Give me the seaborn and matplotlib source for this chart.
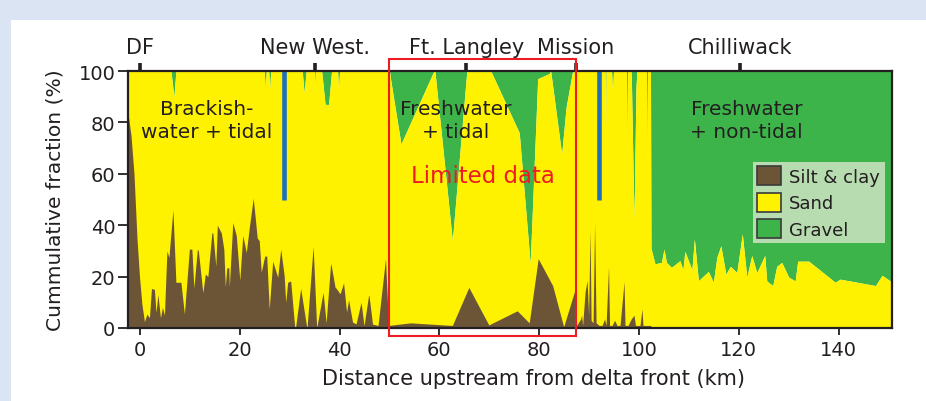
import numpy as np
import matplotlib
matplotlib.use("Agg")
import matplotlib.pyplot as plt
from matplotlib.patches import Rectangle, Patch
import seaborn as sns

# Silt & clay fraction (upper boundary of the brown layer)
silt_km = [-2.5, -1.8, -1.2, -0.6, -0.1, 0.4, 0.9, 1.4, 1.9, 2.3, 2.9, 3.2, 3.6, 4.1, 4.5, 4.9,
           5.4, 5.8, 6.6, 7.2, 8.2, 8.9, 9.9, 10.4, 10.8, 11.5, 11.7, 12.6, 13.1, 13.6, 14.4, 14.6,
           15.2, 15.5, 16.3, 16.8, 17.1, 17.4, 17.8, 17.9, 18.6, 19.3, 20.0, 20.6, 21.3, 21.9, 22.7,
           23.5, 23.9, 24.3, 25.0, 25.4, 25.9, 26.6, 27.0, 27.6, 28.2, 28.9, 29.2, 29.6, 30.2, 31.0,
           31.2, 32.2, 33.4, 33.5, 34.7, 35.4, 35.5, 36.7, 37.3, 38.2, 38.3, 39.1, 39.3, 40.1, 40.8,
           41.4, 41.8, 42.6, 43.3, 44.3, 44.9, 45.8, 45.9, 46.6, 47.7, 49.2, 49.8, 54.2, 62.6, 65.9,
           69.9, 75.6, 78.0, 79.8, 82.7, 84.9, 87.2, 87.5, 88.3, 88.5, 88.7, 89.2, 89.6, 89.9, 90.2,
           90.4, 90.8, 91.1, 91.4, 92.0, 92.6, 93.1, 93.4, 93.9, 94.1, 94.6, 95.1, 95.6, 96.2, 97.0,
           97.2, 97.8, 98.4, 99.0, 99.3, 100.2, 100.6, 100.8, 102.3, 102.7, 150.6]
silt_pct = [85, 75, 60, 35, 20, 9, 2.5, 5.4, 4, 15.4, 15, 6, 13, 4, 8, 5,
            30, 27.5, 46, 17.8, 17.8, 5.5, 30.7, 30.7, 15.6, 30.7, 30, 13.8, 21, 20, 37, 37,
            24, 40, 37, 30.7, 16, 23.4, 23.4, 16, 41, 36, 18.6, 36, 29.4, 39, 50.5,
            35, 34, 21.7, 28, 28, 7.4, 26, 23.5, 19.7, 30.7, 20.3, 10, 17.8, 18.3, 0.5,
            0.5, 15.4, 0.5, 0.5, 31.8, 0.5, 1, 13.9, 2, 25, 24.6, 15.8, 15.5, 13.3, 17.6,
            6.2, 11, 2.3, 1.6, 10, 0.9, 12.6, 12.6, 1.5, 1, 27, 1, 2, 1, 15.8,
            1.2, 6.7, 2, 27, 16.5, 0.5, 15, 1, 3.5, 5, 1, 14, 18.5, 5, 38,
            3, 2, 41, 2, 1, 1, 3.5, 1, 24, 1, 1, 3, 1, 1, 18,
            1, 1, 3.4, 5, 1, 1, 7.4, 1, 1, 0, 0]

# Silt & clay + sand (upper boundary of the yellow layer; gravel fills the rest)
sand_km = [-2.5, 6.2, 6.8, 7.2, 24.9, 25.1, 25.3, 25.8, 26.0, 26.2, 32.5, 32.9, 33.3, 35.0, 35.1,
           35.2, 36.4, 37.1, 37.8, 38.4, 39.6, 39.8, 40.0, 50.0, 50.2, 52.3, 58.9, 59.1, 62.6, 65.5,
           70.3, 76.0, 78.2, 79.7, 82.0, 82.3, 84.5, 85.4, 86.7, 93.2, 93.3, 93.4, 94.5, 94.7, 94.9,
           97.5, 97.6, 97.7, 98.4, 98.5, 99.0, 99.4, 99.6, 101.5, 101.6, 101.7, 102.3, 102.4, 103.2,
           104.5, 105.0, 105.5, 106.5, 108.2, 108.8, 109.2, 110.6, 111.1, 111.9, 113.9, 114.9, 115.6,
           116.4, 117.4, 118.3, 119.6, 120.7, 121.6, 122.6, 123.6, 125.2, 125.6, 126.8, 127.6, 128.6,
           130.0, 131.3, 131.8, 134.0, 136.6, 139.3, 140.3, 147.4, 148.7, 150.6]
sand_top = [100, 100, 90, 100, 100, 93.5, 100, 100, 93, 100, 100, 91.6, 100, 100, 93.5,
            100, 100, 87, 87, 100, 100, 93, 100, 100, 97, 71.6, 100, 100, 34, 100,
            100, 76, 25, 97, 99, 100, 67.7, 86, 100, 100, 78, 100, 100, 92, 100,
            100, 66, 100, 100, 94, 42, 94, 100, 100, 62, 100, 100, 31, 25,
            25.5, 30.7, 25.5, 23.6, 26.2, 22.7, 29.8, 22.7, 34.6, 18.4, 22, 17.8, 27.5,
            32, 21, 24, 21.6, 36.6, 19.8, 28.2, 21.5, 28.2, 18.3, 16.5, 24, 25.5,
            19.8, 18.3, 26, 26, 22, 17.8, 19, 16.5, 20.5, 18]

# Places along the river (top axis) and tidal-limit markers
place_km = [0, 35, 65.4, 87.4, 120.2]
place_names = ["DF", "New West.", "Ft. Langley", "Mission", "Chilliwack"]
marker_km = [28.8, 92.0]

sns.set_theme(style="ticks")
plt.rcParams["font.family"] = ["DejaVu Sans"]

brown = "#6b5536"
yellow = "#fff200"
green = "#3cb44a"
dark = "#231f20"
fs = 14

fig = plt.figure(figsize=(9.26, 4.02), dpi=100, facecolor="#dae4f2")
fig.patches.append(Rectangle((11 / 926, 0), 1, 1 - 21 / 402, transform=fig.transFigure,
                             facecolor="white", edgecolor="none", zorder=-10))
ax = fig.add_axes([128 / 926, 1 - 329 / 402, (891.5 - 128) / 926, (329 - 72) / 402])

ax.fill_between(sand_km, sand_top, 100, color=green, lw=0)
ax.fill_between(sand_km, 0, sand_top, color=yellow, lw=0)
ax.fill_between(silt_km, 0, silt_pct, color=brown, lw=0)
ax.vlines(marker_km, 50, 100, color="#1e6fc2", lw=3.3)

ax.set_xlim(-2.4, 150.6)
ax.set_ylim(0, 100)
ax.set_xticks(range(0, 141, 20))
ax.set_yticks(range(0, 101, 20))
ax.tick_params(labelsize=fs, colors=dark, width=1.3, length=5, direction="out", pad=4)
ax.tick_params(axis="y", length=7, pad=2)
for s in ax.spines.values():
    s.set_linewidth(1.6)
    s.set_color(dark)
ax.set_xlabel("Distance upstream from delta front (km)", fontsize=15, color=dark, labelpad=6)
ax.xaxis.set_label_coords(0.531, -0.155)
ax.set_ylabel("Cummulative fraction (%)", fontsize=14.6, color=dark, labelpad=10)

top = ax.secondary_xaxis("top")
top.set_xticks(place_km)
top.set_xticklabels(place_names)
top.tick_params(labelsize=15, colors=dark, width=2.6, length=6, direction="out", pad=4)
top.spines["top"].set_visible(False)

# limited data box
ax.add_patch(Rectangle((50, -3), 37.4, 107.7, fill=False, edgecolor="#ed1c24", lw=1.5,
                       clip_on=False, zorder=5))

ax.text(13.4, 81, "Brackish-\nwater + tidal", ha="center", va="center", fontsize=14.5,
        color=dark, linespacing=1.3)
ax.text(63.2, 81, "Freshwater\n+ tidal", ha="center", va="center", fontsize=14.5,
        color=dark, linespacing=1.3)
ax.text(68.8, 59.5, "Limited data", ha="center", va="center", fontsize=16.5, color="#ed1c24")
ax.text(121.6, 81, "Freshwater\n+ non-tidal", ha="center", va="center", fontsize=14.5,
        color=dark, linespacing=1.3)

handles = [Patch(facecolor=brown, edgecolor="#3a3a3a", lw=1.2, label="Silt & clay"),
           Patch(facecolor=yellow, edgecolor="#3a3a3a", lw=1.2, label="Sand"),
           Patch(facecolor=green, edgecolor="#3a3a3a", lw=1.2, label="Gravel")]
leg = ax.legend(handles=handles, loc="upper right", bbox_to_anchor=(0.991, 0.646),
                fontsize=13, frameon=True, fancybox=False, borderaxespad=0,
                handlelength=1.33, handleheight=1.22, labelspacing=0.38,
                handletextpad=0.45, borderpad=0.25)
leg.get_frame().set_facecolor("#b6dcb0")
leg.get_frame().set_edgecolor("none")
leg.get_frame().set_alpha(1)
for t in leg.get_texts():
    t.set_color(dark)

fig.savefig("out.png", dpi=100, facecolor=fig.get_facecolor())
